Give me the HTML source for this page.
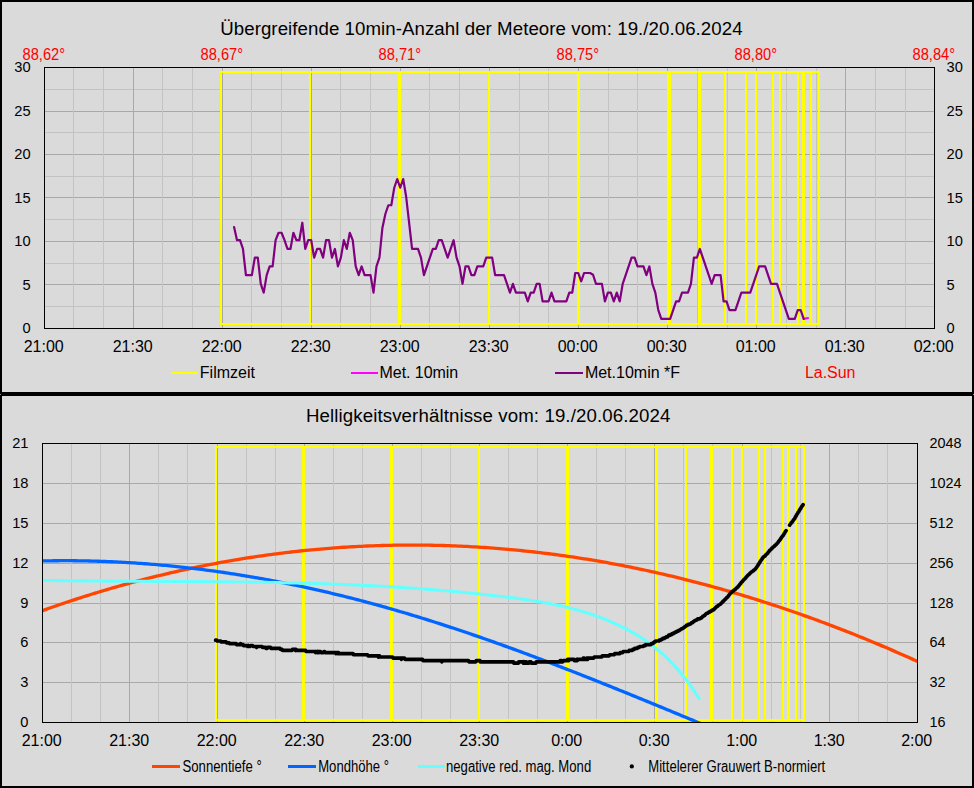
<!DOCTYPE html>
<html><head><meta charset="utf-8"><title>Meteore</title>
<style>html,body{margin:0;padding:0;background:#dadada;}svg{display:block;}text{font-family:"Liberation Sans",sans-serif;}</style></head>
<body>
<svg width="974" height="788" viewBox="0 0 974 788" font-family='"Liberation Sans", sans-serif'>
<rect x="0" y="0" width="974" height="788" fill="#000"/>
<g shape-rendering="crispEdges">
<rect x="2" y="2" width="970" height="390" fill="#dadada"/>
<rect x="2" y="396" width="970" height="390" fill="#dadada"/>
<rect x="0" y="394" width="1" height="1" fill="#8c8c8c"/>
<rect x="973" y="394" width="1" height="1" fill="#8c8c8c"/>
<rect x="44" y="89" width="890" height="1" fill="#c3c3c3"/>
<rect x="44" y="111" width="890" height="1" fill="#a9a9a9"/>
<rect x="44" y="132" width="890" height="1" fill="#c3c3c3"/>
<rect x="44" y="154" width="890" height="1" fill="#a9a9a9"/>
<rect x="44" y="176" width="890" height="1" fill="#c3c3c3"/>
<rect x="44" y="197" width="890" height="1" fill="#a9a9a9"/>
<rect x="44" y="219" width="890" height="1" fill="#c3c3c3"/>
<rect x="44" y="241" width="890" height="1" fill="#a9a9a9"/>
<rect x="44" y="263" width="890" height="1" fill="#c3c3c3"/>
<rect x="44" y="284" width="890" height="1" fill="#a9a9a9"/>
<rect x="44" y="306" width="890" height="1" fill="#c3c3c3"/>
<rect x="73" y="67" width="1" height="261" fill="#c3c3c3"/>
<rect x="103" y="67" width="1" height="261" fill="#c3c3c3"/>
<rect x="133" y="67" width="1" height="261" fill="#a9a9a9"/>
<rect x="162" y="67" width="1" height="261" fill="#c3c3c3"/>
<rect x="192" y="67" width="1" height="261" fill="#c3c3c3"/>
<rect x="222" y="67" width="1" height="261" fill="#a9a9a9"/>
<rect x="251" y="67" width="1" height="261" fill="#c3c3c3"/>
<rect x="281" y="67" width="1" height="261" fill="#c3c3c3"/>
<rect x="311" y="67" width="1" height="261" fill="#a9a9a9"/>
<rect x="340" y="67" width="1" height="261" fill="#c3c3c3"/>
<rect x="370" y="67" width="1" height="261" fill="#c3c3c3"/>
<rect x="400" y="67" width="1" height="261" fill="#a9a9a9"/>
<rect x="429" y="67" width="1" height="261" fill="#c3c3c3"/>
<rect x="459" y="67" width="1" height="261" fill="#c3c3c3"/>
<rect x="489" y="67" width="1" height="261" fill="#a9a9a9"/>
<rect x="519" y="67" width="1" height="261" fill="#c3c3c3"/>
<rect x="548" y="67" width="1" height="261" fill="#c3c3c3"/>
<rect x="578" y="67" width="1" height="261" fill="#a9a9a9"/>
<rect x="608" y="67" width="1" height="261" fill="#c3c3c3"/>
<rect x="637" y="67" width="1" height="261" fill="#c3c3c3"/>
<rect x="667" y="67" width="1" height="261" fill="#a9a9a9"/>
<rect x="697" y="67" width="1" height="261" fill="#c3c3c3"/>
<rect x="727" y="67" width="1" height="261" fill="#c3c3c3"/>
<rect x="756" y="67" width="1" height="261" fill="#a9a9a9"/>
<rect x="786" y="67" width="1" height="261" fill="#c3c3c3"/>
<rect x="816" y="67" width="1" height="261" fill="#c3c3c3"/>
<rect x="845" y="67" width="1" height="261" fill="#a9a9a9"/>
<rect x="875" y="67" width="1" height="261" fill="#c3c3c3"/>
<rect x="905" y="67" width="1" height="261" fill="#c3c3c3"/>
<rect x="42" y="483" width="875" height="1" fill="#a9a9a9"/>
<rect x="42" y="523" width="875" height="1" fill="#a9a9a9"/>
<rect x="42" y="563" width="875" height="1" fill="#a9a9a9"/>
<rect x="42" y="603" width="875" height="1" fill="#a9a9a9"/>
<rect x="42" y="642" width="875" height="1" fill="#a9a9a9"/>
<rect x="42" y="682" width="875" height="1" fill="#a9a9a9"/>
<rect x="71" y="443" width="1" height="279" fill="#c3c3c3"/>
<rect x="100" y="443" width="1" height="279" fill="#c3c3c3"/>
<rect x="129" y="443" width="1" height="279" fill="#a9a9a9"/>
<rect x="158" y="443" width="1" height="279" fill="#c3c3c3"/>
<rect x="187" y="443" width="1" height="279" fill="#c3c3c3"/>
<rect x="217" y="443" width="1" height="279" fill="#a9a9a9"/>
<rect x="246" y="443" width="1" height="279" fill="#c3c3c3"/>
<rect x="275" y="443" width="1" height="279" fill="#c3c3c3"/>
<rect x="304" y="443" width="1" height="279" fill="#a9a9a9"/>
<rect x="333" y="443" width="1" height="279" fill="#c3c3c3"/>
<rect x="362" y="443" width="1" height="279" fill="#c3c3c3"/>
<rect x="392" y="443" width="1" height="279" fill="#a9a9a9"/>
<rect x="421" y="443" width="1" height="279" fill="#c3c3c3"/>
<rect x="450" y="443" width="1" height="279" fill="#c3c3c3"/>
<rect x="479" y="443" width="1" height="279" fill="#a9a9a9"/>
<rect x="508" y="443" width="1" height="279" fill="#c3c3c3"/>
<rect x="537" y="443" width="1" height="279" fill="#c3c3c3"/>
<rect x="567" y="443" width="1" height="279" fill="#a9a9a9"/>
<rect x="596" y="443" width="1" height="279" fill="#c3c3c3"/>
<rect x="625" y="443" width="1" height="279" fill="#c3c3c3"/>
<rect x="654" y="443" width="1" height="279" fill="#a9a9a9"/>
<rect x="683" y="443" width="1" height="279" fill="#c3c3c3"/>
<rect x="712" y="443" width="1" height="279" fill="#c3c3c3"/>
<rect x="742" y="443" width="1" height="279" fill="#a9a9a9"/>
<rect x="771" y="443" width="1" height="279" fill="#c3c3c3"/>
<rect x="800" y="443" width="1" height="279" fill="#c3c3c3"/>
<rect x="829" y="443" width="1" height="279" fill="#a9a9a9"/>
<rect x="858" y="443" width="1" height="279" fill="#c3c3c3"/>
<rect x="887" y="443" width="1" height="279" fill="#c3c3c3"/>
</g>
<g shape-rendering="crispEdges" fill="#ffff00">
<rect x="220" y="71" width="600" height="2" fill="#ffff00"/>
<rect x="220" y="323" width="600" height="2" fill="#ffff00"/>
<rect x="220" y="71" width="2" height="254" fill="#ffff00"/>
<rect x="309" y="71" width="2" height="254" fill="#ffff00"/>
<rect x="398" y="71" width="3" height="254" fill="#ffff00"/>
<rect x="488" y="71" width="2" height="254" fill="#ffff00"/>
<rect x="577" y="71" width="3" height="254" fill="#ffff00"/>
<rect x="667" y="71" width="4" height="254" fill="#ffff00"/>
<rect x="698" y="71" width="3" height="254" fill="#ffff00"/>
<rect x="724" y="71" width="2" height="254" fill="#ffff00"/>
<rect x="745" y="71" width="2" height="254" fill="#ffff00"/>
<rect x="755" y="71" width="2" height="254" fill="#ffff00"/>
<rect x="772" y="71" width="2" height="254" fill="#ffff00"/>
<rect x="779" y="71" width="2" height="254" fill="#ffff00"/>
<rect x="797" y="71" width="2" height="254" fill="#ffff00"/>
<rect x="802" y="71" width="3" height="254" fill="#ffff00"/>
<rect x="810" y="71" width="2" height="254" fill="#ffff00"/>
<rect x="818" y="71" width="2" height="254" fill="#ffff00"/>
</g>
<g shape-rendering="crispEdges" fill="#ffff00">
<rect x="215" y="446" width="590" height="2" fill="#ffff00"/>
<rect x="215" y="719" width="590" height="2" fill="#ffff00"/>
<rect x="215" y="446" width="2" height="275" fill="#ffff00"/>
<rect x="302" y="446" width="3" height="275" fill="#ffff00"/>
<rect x="390" y="446" width="3" height="275" fill="#ffff00"/>
<rect x="478" y="446" width="2" height="275" fill="#ffff00"/>
<rect x="566" y="446" width="3" height="275" fill="#ffff00"/>
<rect x="655" y="446" width="3" height="275" fill="#ffff00"/>
<rect x="685" y="446" width="2" height="275" fill="#ffff00"/>
<rect x="710" y="446" width="3" height="275" fill="#ffff00"/>
<rect x="731" y="446" width="2" height="275" fill="#ffff00"/>
<rect x="741" y="446" width="2" height="275" fill="#ffff00"/>
<rect x="758" y="446" width="2" height="275" fill="#ffff00"/>
<rect x="764" y="446" width="2" height="275" fill="#ffff00"/>
<rect x="782" y="446" width="2" height="275" fill="#ffff00"/>
<rect x="787" y="446" width="3" height="275" fill="#ffff00"/>
<rect x="795" y="446" width="2" height="275" fill="#ffff00"/>
<rect x="803" y="446" width="2" height="275" fill="#ffff00"/>
</g>
<polyline points="803.67,318.86 808.00,318.00" fill="none" stroke="#ff00ff" stroke-width="2.2" stroke-linejoin="round" stroke-linecap="round"/>
<polyline points="234.07,227.09 237.03,240.20 240.00,240.20 242.97,248.94 245.93,275.16 248.90,275.16 251.87,275.16 254.83,257.68 257.80,257.68 260.77,283.90 263.73,292.64 266.70,275.16 269.67,266.42 272.63,266.42 275.60,240.20 278.57,232.77 281.53,232.77 284.50,240.20 287.47,248.94 290.43,248.94 293.40,232.77 296.37,240.20 299.33,240.20 302.30,222.72 305.27,248.94 308.23,240.20 311.20,240.20 314.17,257.68 317.13,248.94 320.10,248.94 323.07,257.68 326.03,240.20 329.00,240.20 331.97,257.68 334.93,248.94 337.90,266.42 340.87,257.68 343.83,240.20 346.80,248.94 349.77,232.77 352.73,240.20 355.70,266.42 358.67,275.16 361.63,266.42 364.60,275.16 367.57,275.16 370.53,275.16 373.50,292.64 376.47,266.42 379.43,257.68 382.40,227.96 385.37,213.98 388.33,205.24 391.30,205.24 394.27,187.76 397.23,179.02 400.20,187.76 403.17,179.02 406.13,196.50 409.10,222.72 412.07,248.94 415.03,248.94 418.00,248.94 420.97,257.68 423.93,275.16 426.90,266.42 429.87,257.68 432.83,248.94 435.80,248.94 438.77,240.20 441.73,240.20 444.70,248.94 447.67,257.68 450.63,248.94 453.60,240.20 456.57,257.68 459.53,266.42 462.50,283.90 465.47,266.42 468.43,266.42 471.40,275.16 474.37,275.16 477.33,266.42 480.30,266.42 483.27,266.42 486.23,257.68 489.20,257.68 492.17,257.68 495.13,275.16 498.10,275.16 501.07,275.16 504.03,275.16 507.00,283.90 509.97,292.64 512.93,283.90 515.90,292.64 518.87,292.64 521.83,292.64 524.80,292.64 527.77,301.38 530.73,292.64 533.70,292.64 536.67,283.90 539.63,283.90 542.60,301.38 545.57,301.38 548.53,301.38 551.50,292.64 554.47,301.38 557.43,301.38 560.40,301.38 563.37,301.38 566.33,301.38 569.30,292.64 572.27,292.64 575.23,272.98 578.20,272.98 581.17,281.28 584.13,272.98 587.10,272.98 590.07,272.98 593.03,274.72 596.00,283.90 598.97,283.90 601.93,283.90 604.90,301.38 607.87,292.64 610.83,292.64 613.80,301.38 616.77,292.64 619.73,301.38 622.70,283.90 625.67,275.16 628.63,266.42 631.60,257.68 634.57,257.68 637.53,266.42 640.50,266.42 643.47,266.42 646.43,275.16 649.40,266.42 652.37,283.90 655.33,292.64 658.30,310.12 661.27,318.86 664.23,318.86 667.20,318.86 670.17,318.86 673.13,310.12 676.10,301.38 679.07,301.38 682.03,292.64 685.00,292.64 687.97,292.64 690.93,283.90 693.90,257.68 696.87,257.68 699.83,248.94 702.80,257.68 705.77,266.42 708.73,275.16 711.70,283.90 714.67,275.16 717.63,275.16 720.60,275.16 723.57,301.38 726.53,301.38 729.50,310.12 732.47,310.12 735.43,310.12 738.40,301.38 741.37,292.64 744.33,292.64 747.30,292.64 750.27,292.64 753.23,283.90 756.20,275.16 759.17,266.42 762.13,266.42 765.10,266.42 768.07,275.16 771.03,283.90 774.00,283.90 776.97,283.90 779.93,292.64 782.90,301.38 785.87,310.12 788.83,318.86 791.80,318.86 794.77,318.86 797.73,310.12 800.70,310.12 803.67,318.86" fill="none" stroke="#800080" stroke-width="2.2" stroke-linejoin="round" stroke-linecap="round"/>
<clipPath id="cb"><rect x="42" y="443" width="876" height="280"/></clipPath>
<g clip-path="url(#cb)">
<polyline points="42.50,610.64 45.43,609.60 48.35,608.56 51.28,607.54 54.21,606.52 57.14,605.51 60.06,604.50 62.99,603.51 65.92,602.53 68.84,601.55 71.77,600.58 74.70,599.62 77.63,598.67 80.55,597.73 83.48,596.79 86.41,595.87 89.33,594.95 92.26,594.04 95.19,593.14 98.11,592.25 101.04,591.37 103.97,590.50 106.90,589.63 109.82,588.77 112.75,587.92 115.68,587.08 118.60,586.25 121.53,585.43 124.46,584.61 127.39,583.81 130.31,583.01 133.24,582.22 136.17,581.44 139.09,580.66 142.02,579.90 144.95,579.14 147.88,578.39 150.80,577.66 153.73,576.92 156.66,576.20 159.58,575.49 162.51,574.78 165.44,574.09 168.36,573.40 171.29,572.72 174.22,572.04 177.15,571.38 180.07,570.72 183.00,570.08 185.93,569.44 188.85,568.81 191.78,568.19 194.71,567.57 197.64,566.97 200.56,566.37 203.49,565.78 206.42,565.20 209.34,564.63 212.27,564.07 215.20,563.51 218.13,562.96 221.05,562.43 223.98,561.90 226.91,561.37 229.83,560.86 232.76,560.36 235.69,559.86 238.62,559.37 241.54,558.89 244.47,558.42 247.40,557.95 250.32,557.50 253.25,557.05 256.18,556.61 259.10,556.18 262.03,555.76 264.96,555.34 267.89,554.94 270.81,554.54 273.74,554.15 276.67,553.77 279.59,553.40 282.52,553.03 285.45,552.67 288.38,552.33 291.30,551.99 294.23,551.65 297.16,551.33 300.08,551.01 303.01,550.71 305.94,550.41 308.87,550.12 311.79,549.83 314.72,549.56 317.65,549.29 320.57,549.03 323.50,548.78 326.43,548.54 329.35,548.31 332.28,548.08 335.21,547.87 338.14,547.66 341.06,547.46 343.99,547.26 346.92,547.08 349.84,546.90 352.77,546.73 355.70,546.57 358.63,546.42 361.55,546.28 364.48,546.14 367.41,546.01 370.33,545.89 373.26,545.78 376.19,545.68 379.12,545.58 382.04,545.49 384.97,545.41 387.90,545.34 390.82,545.28 393.75,545.22 396.68,545.18 399.61,545.14 402.53,545.11 405.46,545.09 408.39,545.07 411.31,545.06 414.24,545.07 417.17,545.07 420.09,545.09 423.02,545.12 425.95,545.15 428.88,545.19 431.80,545.24 434.73,545.30 437.66,545.37 440.58,545.44 443.51,545.52 446.44,545.61 449.37,545.71 452.29,545.81 455.22,545.93 458.15,546.05 461.07,546.18 464.00,546.32 466.93,546.46 469.86,546.61 472.78,546.78 475.71,546.94 478.64,547.12 481.56,547.31 484.49,547.50 487.42,547.70 490.34,547.91 493.27,548.13 496.20,548.35 499.13,548.59 502.05,548.83 504.98,549.08 507.91,549.33 510.83,549.60 513.76,549.87 516.69,550.15 519.62,550.44 522.54,550.74 525.47,551.04 528.40,551.35 531.32,551.67 534.25,552.00 537.18,552.33 540.11,552.68 543.03,553.03 545.96,553.39 548.89,553.76 551.81,554.13 554.74,554.51 557.67,554.90 560.59,555.30 563.52,555.71 566.45,556.12 569.38,556.55 572.30,556.98 575.23,557.41 578.16,557.86 581.08,558.31 584.01,558.77 586.94,559.24 589.87,559.72 592.79,560.20 595.72,560.70 598.65,561.20 601.57,561.70 604.50,562.22 607.43,562.74 610.36,563.27 613.28,563.81 616.21,564.36 619.14,564.92 622.06,565.48 624.99,566.05 627.92,566.63 630.85,567.21 633.77,567.80 636.70,568.41 639.63,569.01 642.55,569.63 645.48,570.26 648.41,570.89 651.33,571.53 654.26,572.17 657.19,572.83 660.12,573.49 663.04,574.16 665.97,574.84 668.90,575.53 671.82,576.22 674.75,576.92 677.68,577.63 680.61,578.35 683.53,579.07 686.46,579.80 689.39,580.54 692.31,581.29 695.24,582.05 698.17,582.81 701.10,583.58 704.02,584.36 706.95,585.14 709.88,585.94 712.80,586.74 715.73,587.55 718.66,588.36 721.58,589.18 724.51,590.02 727.44,590.86 730.37,591.70 733.29,592.56 736.22,593.42 739.15,594.29 742.07,595.16 745.00,596.05 747.93,596.94 750.86,597.84 753.78,598.75 756.71,599.66 759.64,600.59 762.56,601.52 765.49,602.45 768.42,603.40 771.35,604.35 774.27,605.31 777.20,606.28 780.13,607.25 783.05,608.24 785.98,609.23 788.91,610.22 791.84,611.23 794.76,612.24 797.69,613.26 800.62,614.29 803.54,615.33 806.47,616.37 809.40,617.42 812.32,618.48 815.25,619.54 818.18,620.62 821.11,621.70 824.03,622.79 826.96,623.88 829.89,624.98 832.81,626.09 835.74,627.21 838.67,628.34 841.60,629.47 844.52,630.61 847.45,631.76 850.38,632.91 853.30,634.07 856.23,635.24 859.16,636.42 862.09,637.61 865.01,638.80 867.94,640.00 870.87,641.21 873.79,642.42 876.72,643.64 879.65,644.87 882.57,646.11 885.50,647.35 888.43,648.60 891.36,649.86 894.28,651.13 897.21,652.40 900.14,653.68 903.06,654.97 905.99,656.27 908.92,657.57 911.85,658.88 914.77,660.20 917.70,661.52" fill="none" stroke="#ff4500" stroke-width="3.3" stroke-linejoin="round" stroke-linecap="round"/>
<polyline points="42.50,560.96 44.74,560.91 46.98,560.87 49.22,560.83 51.46,560.80 53.70,560.77 55.93,560.75 58.17,560.73 60.41,560.72 62.65,560.71 64.89,560.71 67.13,560.71 69.37,560.71 71.61,560.72 73.85,560.74 76.09,560.76 78.33,560.79 80.57,560.82 82.80,560.85 85.04,560.89 87.28,560.93 89.52,560.98 91.76,561.04 94.00,561.10 96.24,561.16 98.48,561.23 100.72,561.30 102.96,561.38 105.20,561.46 107.43,561.55 109.67,561.65 111.91,561.74 114.15,561.84 116.39,561.95 118.63,562.06 120.87,562.18 123.11,562.30 125.35,562.42 127.59,562.55 129.83,562.69 132.07,562.83 134.30,562.97 136.54,563.12 138.78,563.28 141.02,563.43 143.26,563.60 145.50,563.76 147.74,563.94 149.98,564.11 152.22,564.29 154.46,564.48 156.70,564.67 158.93,564.87 161.17,565.07 163.41,565.27 165.65,565.48 167.89,565.69 170.13,565.91 172.37,566.13 174.61,566.36 176.85,566.59 179.09,566.83 181.33,567.07 183.57,567.32 185.80,567.57 188.04,567.82 190.28,568.08 192.52,568.34 194.76,568.61 197.00,568.88 199.24,569.16 201.48,569.44 203.72,569.73 205.96,570.02 208.20,570.31 210.43,570.61 212.67,570.92 214.91,571.23 217.15,571.54 219.39,571.86 221.63,572.18 223.87,572.50 226.11,572.83 228.35,573.17 230.59,573.51 232.83,573.85 235.07,574.20 237.30,574.55 239.54,574.91 241.78,575.27 244.02,575.64 246.26,576.01 248.50,576.38 250.74,576.76 252.98,577.14 255.22,577.53 257.46,577.92 259.70,578.32 261.93,578.72 264.17,579.12 266.41,579.53 268.65,579.94 270.89,580.36 273.13,580.78 275.37,581.21 277.61,581.64 279.85,582.08 282.09,582.51 284.33,582.96 286.57,583.40 288.80,583.86 291.04,584.31 293.28,584.77 295.52,585.24 297.76,585.71 300.00,586.18 302.24,586.66 304.48,587.14 306.72,587.62 308.96,588.11 311.20,588.60 313.43,589.10 315.67,589.60 317.91,590.11 320.15,590.62 322.39,591.14 324.63,591.65 326.87,592.18 329.11,592.70 331.35,593.24 333.59,593.77 335.83,594.31 338.07,594.85 340.30,595.40 342.54,595.95 344.78,596.51 347.02,597.07 349.26,597.63 351.50,598.20 353.74,598.77 355.98,599.35 358.22,599.93 360.46,600.51 362.70,601.10 364.93,601.69 367.17,602.29 369.41,602.89 371.65,603.49 373.89,604.10 376.13,604.71 378.37,605.33 380.61,605.95 382.85,606.57 385.09,607.20 387.33,607.83 389.57,608.47 391.80,609.11 394.04,609.75 396.28,610.40 398.52,611.05 400.76,611.71 403.00,612.37 405.24,613.03 407.48,613.70 409.72,614.37 411.96,615.05 414.20,615.72 416.43,616.41 418.67,617.09 420.91,617.78 423.15,618.47 425.39,619.17 427.63,619.87 429.87,620.57 432.11,621.28 434.35,621.99 436.59,622.71 438.83,623.42 441.07,624.14 443.30,624.87 445.54,625.60 447.78,626.33 450.02,627.06 452.26,627.80 454.50,628.54 456.74,629.28 458.98,630.03 461.22,630.78 463.46,631.53 465.70,632.29 467.93,633.05 470.17,633.81 472.41,634.58 474.65,635.34 476.89,636.11 479.13,636.89 481.37,637.67 483.61,638.45 485.85,639.23 488.09,640.02 490.33,640.80 492.57,641.60 494.80,642.39 497.04,643.19 499.28,643.99 501.52,644.79 503.76,645.59 506.00,646.40 508.24,647.21 510.48,648.02 512.72,648.84 514.96,649.65 517.20,650.47 519.43,651.30 521.67,652.12 523.91,652.95 526.15,653.78 528.39,654.61 530.63,655.45 532.87,656.28 535.11,657.12 537.35,657.96 539.59,658.81 541.83,659.65 544.07,660.50 546.30,661.35 548.54,662.20 550.78,663.06 553.02,663.91 555.26,664.77 557.50,665.63 559.74,666.49 561.98,667.36 564.22,668.22 566.46,669.09 568.70,669.96 570.93,670.83 573.17,671.70 575.41,672.58 577.65,673.46 579.89,674.33 582.13,675.21 584.37,676.10 586.61,676.98 588.85,677.87 591.09,678.75 593.33,679.64 595.57,680.53 597.80,681.42 600.04,682.32 602.28,683.21 604.52,684.11 606.76,685.00 609.00,685.90 611.24,686.80 613.48,687.70 615.72,688.61 617.96,689.51 620.20,690.41 622.43,691.32 624.67,692.23 626.91,693.14 629.15,694.05 631.39,694.96 633.63,695.87 635.87,696.78 638.11,697.70 640.35,698.61 642.59,699.53 644.83,700.45 647.07,701.36 649.30,702.28 651.54,703.20 653.78,704.12 656.02,705.04 658.26,705.97 660.50,706.89 662.74,707.81 664.98,708.74 667.22,709.66 669.46,710.59 671.70,711.52 673.93,712.44 676.17,713.37 678.41,714.30 680.65,715.23 682.89,716.16 685.13,717.09 687.37,718.02 689.61,718.95 691.85,719.88 694.09,720.81 696.33,721.74 698.57,722.67 700.80,723.60 703.04,724.54 705.28,725.47 707.52,726.40 709.76,727.34 712.00,728.27" fill="none" stroke="#0066ff" stroke-width="3.3" stroke-linejoin="round" stroke-linecap="round" stroke-linecap="butt"/>
<polyline points="42.50,580.38 44.70,580.41 46.89,580.45 49.09,580.48 51.28,580.52 53.48,580.55 55.67,580.58 57.87,580.61 60.07,580.64 62.26,580.67 64.46,580.70 66.65,580.72 68.85,580.75 71.04,580.78 73.24,580.80 75.43,580.82 77.63,580.85 79.83,580.87 82.02,580.89 84.22,580.91 86.41,580.93 88.61,580.95 90.80,580.97 93.00,580.99 95.20,581.01 97.39,581.03 99.59,581.05 101.78,581.06 103.98,581.08 106.17,581.09 108.37,581.11 110.57,581.12 112.76,581.14 114.96,581.15 117.15,581.17 119.35,581.18 121.54,581.19 123.74,581.21 125.93,581.22 128.13,581.23 130.33,581.24 132.52,581.26 134.72,581.27 136.91,581.28 139.11,581.29 141.30,581.30 143.50,581.31 145.70,581.33 147.89,581.34 150.09,581.35 152.28,581.36 154.48,581.37 156.67,581.38 158.87,581.39 161.07,581.40 163.26,581.41 165.46,581.43 167.65,581.44 169.85,581.45 172.04,581.46 174.24,581.47 176.43,581.48 178.63,581.50 180.83,581.51 183.02,581.52 185.22,581.54 187.41,581.55 189.61,581.56 191.80,581.58 194.00,581.59 196.20,581.61 198.39,581.62 200.59,581.64 202.78,581.65 204.98,581.67 207.17,581.69 209.37,581.70 211.57,581.72 213.76,581.74 215.96,581.76 218.15,581.78 220.35,581.80 222.54,581.82 224.74,581.84 226.93,581.86 229.13,581.88 231.33,581.91 233.52,581.93 235.72,581.96 237.91,581.98 240.11,582.01 242.30,582.04 244.50,582.06 246.70,582.09 248.89,582.12 251.09,582.15 253.28,582.19 255.48,582.22 257.67,582.25 259.87,582.29 262.07,582.32 264.26,582.36 266.46,582.39 268.65,582.43 270.85,582.47 273.04,582.51 275.24,582.55 277.43,582.60 279.63,582.64 281.83,582.69 284.02,582.73 286.22,582.78 288.41,582.83 290.61,582.88 292.80,582.93 295.00,582.98 297.20,583.03 299.39,583.09 301.59,583.15 303.78,583.20 305.98,583.26 308.17,583.32 310.37,583.38 312.57,583.45 314.76,583.51 316.96,583.58 319.15,583.65 321.35,583.72 323.54,583.79 325.74,583.86 327.93,583.93 330.13,584.01 332.33,584.09 334.52,584.16 336.72,584.25 338.91,584.33 341.11,584.41 343.30,584.50 345.50,584.58 347.70,584.67 349.89,584.76 352.09,584.86 354.28,584.95 356.48,585.05 358.67,585.15 360.87,585.25 363.07,585.35 365.26,585.45 367.46,585.56 369.65,585.66 371.85,585.77 374.04,585.89 376.24,586.00 378.43,586.12 380.63,586.23 382.83,586.35 385.02,586.48 387.22,586.60 389.41,586.73 391.61,586.85 393.80,586.98 396.00,587.12 398.20,587.25 400.39,587.39 402.59,587.53 404.78,587.67 406.98,587.82 409.17,587.96 411.37,588.11 413.57,588.26 415.76,588.42 417.96,588.57 420.15,588.73 422.35,588.89 424.54,589.05 426.74,589.22 428.93,589.39 431.13,589.56 433.33,589.73 435.52,589.91 437.72,590.09 439.91,590.27 442.11,590.45 444.30,590.64 446.50,590.83 448.70,591.02 450.89,591.21 453.09,591.41 455.28,591.61 457.48,591.81 459.67,592.02 461.87,592.23 464.07,592.44 466.26,592.65 468.46,592.87 470.65,593.09 472.85,593.31 475.04,593.53 477.24,593.76 479.43,593.99 481.63,594.23 483.83,594.47 486.02,594.71 488.22,594.95 490.41,595.20 492.61,595.45 494.80,595.70 497.00,595.95 499.20,596.21 501.39,596.47 503.59,596.74 505.78,597.01 507.98,597.28 510.17,597.56 512.37,597.83 514.57,598.12 516.76,598.40 518.96,598.70 521.15,598.99 523.35,599.30 525.54,599.61 527.74,599.92 529.93,600.25 532.13,600.58 534.33,600.92 536.52,601.27 538.72,601.63 540.91,602.00 543.11,602.38 545.30,602.77 547.50,603.17 549.70,603.59 551.89,604.01 554.09,604.45 556.28,604.90 558.48,605.37 560.67,605.85 562.87,606.34 565.07,606.85 567.26,607.38 569.46,607.92 571.65,608.48 573.85,609.05 576.04,609.64 578.24,610.25 580.43,610.88 582.63,611.53 584.83,612.20 587.02,612.89 589.22,613.60 591.41,614.33 593.61,615.08 595.80,615.85 598.00,616.65 600.20,617.47 602.39,618.31 604.59,619.17 606.78,620.06 608.98,620.98 611.17,621.92 613.37,622.89 615.57,623.88 617.76,624.90 619.96,625.94 622.15,627.02 624.35,628.12 626.54,629.25 628.74,630.42 630.93,631.61 633.13,632.84 635.33,634.11 637.52,635.41 639.72,636.76 641.91,638.16 644.11,639.60 646.30,641.09 648.50,642.64 650.70,644.23 652.89,645.89 655.09,647.61 657.28,649.39 659.48,651.24 661.67,653.15 663.87,655.13 666.07,657.19 668.26,659.32 670.46,661.53 672.65,663.82 674.85,666.19 677.04,668.64 679.24,671.19 681.43,673.82 683.63,676.55 685.83,679.37 688.02,682.29 690.22,685.31 692.41,688.44 694.61,691.67 696.80,695.00 699.00,698.45" fill="none" stroke="#66ffff" stroke-width="3.1" stroke-linejoin="round" stroke-linecap="round"/>
<polyline points="215.60,640.15 216.10,640.15 216.60,640.15 217.10,641.02 217.60,641.02 218.10,641.02 218.60,641.02 219.10,641.02 219.60,641.02 220.10,641.02 220.60,641.02 221.10,641.89 221.59,641.89 222.09,641.89 222.59,641.89 223.09,641.89 223.59,641.89 224.09,641.89 224.59,641.89 225.09,641.89 225.59,641.89 226.09,641.89 226.59,642.79 227.09,642.79 227.59,642.79 228.09,642.79 228.59,642.79 229.09,642.79 229.59,643.69 230.09,643.69 230.59,643.69 231.09,643.69 231.59,643.69 232.09,643.69 232.59,643.69 233.09,643.69 233.58,643.69 234.08,643.69 234.58,643.69 235.08,643.69 235.58,643.69 236.08,643.69 236.58,644.61 237.08,644.61 237.58,644.61 238.08,644.61 238.58,644.61 239.08,644.61 239.58,644.61 240.08,644.61 240.58,643.69 241.08,644.61 241.58,644.61 242.08,644.61 242.58,644.61 243.08,644.61 243.58,645.55 244.08,645.55 244.58,645.55 245.07,645.55 245.57,645.55 246.07,645.55 246.57,645.55 247.07,645.55 247.57,646.50 248.07,646.50 248.57,645.55 249.07,646.50 249.57,646.50 250.07,646.50 250.57,645.55 251.07,645.55 251.57,645.55 252.07,645.55 252.57,645.55 253.07,646.50 253.57,646.50 254.07,646.50 254.57,646.50 255.07,646.50 255.57,646.50 256.07,646.50 256.57,647.46 257.06,646.50 257.56,646.50 258.06,646.50 258.56,646.50 259.06,646.50 259.56,646.50 260.06,646.50 260.56,646.50 261.06,646.50 261.56,646.50 262.06,646.50 262.56,647.46 263.06,647.46 263.56,647.46 264.06,647.46 264.56,647.46 265.06,647.46 265.56,647.46 266.06,648.45 266.56,648.45 267.06,648.45 267.56,647.46 268.06,647.46 268.55,647.46 269.05,647.46 269.55,647.46 270.05,647.46 270.55,647.46 271.05,648.45 271.55,648.45 272.05,648.45 272.55,648.45 273.05,648.45 273.55,648.45 274.05,648.45 274.55,648.45 275.05,648.45 275.55,648.45 276.05,648.45 276.55,648.45 277.05,648.45 277.55,648.45 278.05,648.45 278.55,648.45 279.05,648.45 279.55,648.45 280.05,648.45 280.54,649.45 281.04,649.45 281.54,649.45 282.04,649.45 282.54,650.46 283.04,650.46 283.54,650.46 284.04,650.46 284.54,650.46 285.04,650.46 285.54,650.46 286.04,650.46 286.54,650.46 287.04,650.46 287.54,650.46 288.04,650.46 288.54,650.46 289.04,650.46 289.54,650.46 290.04,650.46 290.54,650.46 291.04,650.46 291.54,650.46 292.03,650.46 292.53,649.45 293.03,649.45 293.53,649.45 294.03,649.45 294.53,649.45 295.03,649.45 295.53,650.46 296.03,649.45 296.53,650.46 297.03,650.46 297.53,650.46 298.03,650.46 298.53,650.46 299.03,650.46 299.53,650.46 300.03,650.46 300.53,650.46 301.03,650.46 301.53,650.46 302.03,650.46 302.53,650.46 303.03,650.46 303.53,650.46 304.02,650.46 304.52,650.46 305.02,650.46 305.52,650.46 306.02,651.50 306.52,651.50 307.02,651.50 307.52,651.50 308.02,651.50 308.52,651.50 309.02,651.50 309.52,651.50 310.02,651.50 310.52,651.50 311.02,651.50 311.52,651.50 312.02,651.50 312.52,651.50 313.02,651.50 313.52,651.50 314.02,651.50 314.52,651.50 315.02,651.50 315.51,652.56 316.01,651.50 316.51,651.50 317.01,651.50 317.51,652.56 318.01,651.50 318.51,652.56 319.01,652.56 319.51,651.50 320.01,651.50 320.51,651.50 321.01,652.56 321.51,652.56 322.01,652.56 322.51,652.56 323.01,652.56 323.51,652.56 324.01,651.50 324.51,651.50 325.01,652.56 325.51,652.56 326.01,652.56 326.51,652.56 327.01,652.56 327.50,652.56 328.00,652.56 328.50,652.56 329.00,652.56 329.50,652.56 330.00,652.56 330.50,652.56 331.00,652.56 331.50,652.56 332.00,652.56 332.50,652.56 333.00,652.56 333.50,652.56 334.00,652.56 334.50,652.56 335.00,652.56 335.50,652.56 336.00,653.63 336.50,652.56 337.00,652.56 337.50,652.56 338.00,653.63 338.50,652.56 338.99,653.63 339.49,653.63 339.99,653.63 340.49,653.63 340.99,653.63 341.49,653.63 341.99,653.63 342.49,653.63 342.99,653.63 343.49,653.63 343.99,653.63 344.49,653.63 344.99,653.63 345.49,653.63 345.99,653.63 346.49,653.63 346.99,653.63 347.49,653.63 347.99,653.63 348.49,653.63 348.99,653.63 349.49,653.63 349.99,653.63 350.49,653.63 350.98,653.63 351.48,653.63 351.98,653.63 352.48,653.63 352.98,653.63 353.48,654.73 353.98,654.73 354.48,654.73 354.98,654.73 355.48,654.73 355.98,654.73 356.48,654.73 356.98,654.73 357.48,654.73 357.98,654.73 358.48,654.73 358.98,654.73 359.48,654.73 359.98,654.73 360.48,654.73 360.98,654.73 361.48,654.73 361.98,654.73 362.48,654.73 362.97,654.73 363.47,654.73 363.97,654.73 364.47,654.73 364.97,654.73 365.47,654.73 365.97,654.73 366.47,654.73 366.97,654.73 367.47,654.73 367.97,655.84 368.47,655.84 368.97,655.84 369.47,655.84 369.97,655.84 370.47,655.84 370.97,655.84 371.47,655.84 371.97,655.84 372.47,655.84 372.97,655.84 373.47,655.84 373.97,655.84 374.46,655.84 374.96,655.84 375.46,655.84 375.96,655.84 376.46,655.84 376.96,655.84 377.46,655.84 377.96,655.84 378.46,656.98 378.96,655.84 379.46,655.84 379.96,656.98 380.46,656.98 380.96,656.98 381.46,656.98 381.96,656.98 382.46,656.98 382.96,656.98 383.46,656.98 383.96,656.98 384.46,656.98 384.96,656.98 385.46,656.98 385.96,656.98 386.45,656.98 386.95,656.98 387.45,656.98 387.95,656.98 388.45,656.98 388.95,656.98 389.45,656.98 389.95,656.98 390.45,656.98 390.95,656.98 391.45,656.98 391.95,656.98 392.45,656.98 392.95,658.14 393.45,658.14 393.95,658.14 394.45,658.14 394.95,658.14 395.45,658.14 395.95,658.14 396.45,658.14 396.95,658.14 397.45,658.14 397.94,658.14 398.44,658.14 398.94,658.14 399.44,658.14 399.94,658.14 400.44,658.14 400.94,658.14 401.44,659.33 401.94,658.14 402.44,658.14 402.94,658.14 403.44,658.14 403.94,658.14 404.44,658.14 404.94,659.33 405.44,659.33 405.94,659.33 406.44,659.33 406.94,659.33 407.44,659.33 407.94,659.33 408.44,659.33 408.94,659.33 409.44,659.33 409.93,659.33 410.43,659.33 410.93,659.33 411.43,659.33 411.93,659.33 412.43,659.33 412.93,659.33 413.43,659.33 413.93,659.33 414.43,659.33 414.93,659.33 415.43,659.33 415.93,659.33 416.43,659.33 416.93,659.33 417.43,659.33 417.93,659.33 418.43,659.33 418.93,659.33 419.43,659.33 419.93,659.33 420.43,659.33 420.93,659.33 421.42,659.33 421.92,659.33 422.42,659.33 422.92,660.54 423.42,660.54 423.92,660.54 424.42,660.54 424.92,660.54 425.42,660.54 425.92,660.54 426.42,660.54 426.92,660.54 427.42,660.54 427.92,660.54 428.42,660.54 428.92,660.54 429.42,660.54 429.92,660.54 430.42,660.54 430.92,660.54 431.42,660.54 431.92,660.54 432.42,660.54 432.92,660.54 433.41,660.54 433.91,660.54 434.41,660.54 434.91,660.54 435.41,660.54 435.91,660.54 436.41,660.54 436.91,660.54 437.41,660.54 437.91,660.54 438.41,660.54 438.91,660.54 439.41,660.54 439.91,660.54 440.41,660.54 440.91,660.54 441.41,660.54 441.91,661.78 442.41,660.54 442.91,660.54 443.41,660.54 443.91,660.54 444.41,660.54 444.90,660.54 445.40,660.54 445.90,660.54 446.40,660.54 446.90,660.54 447.40,660.54 447.90,660.54 448.40,660.54 448.90,660.54 449.40,660.54 449.90,660.54 450.40,660.54 450.90,660.54 451.40,660.54 451.90,660.54 452.40,660.54 452.90,660.54 453.40,660.54 453.90,660.54 454.40,660.54 454.90,660.54 455.40,660.54 455.90,660.54 456.40,660.54 456.89,660.54 457.39,660.54 457.89,660.54 458.39,660.54 458.89,660.54 459.39,660.54 459.89,660.54 460.39,660.54 460.89,660.54 461.39,660.54 461.89,660.54 462.39,660.54 462.89,660.54 463.39,660.54 463.89,660.54 464.39,660.54 464.89,660.54 465.39,660.54 465.89,660.54 466.39,660.54 466.89,660.54 467.39,660.54 467.89,660.54 468.38,660.54 468.88,661.78 469.38,661.78 469.88,661.78 470.38,661.78 470.88,661.78 471.38,661.78 471.88,661.78 472.38,661.78 472.88,661.78 473.38,661.78 473.88,661.78 474.38,661.78 474.88,661.78 475.38,661.78 475.88,661.78 476.38,660.54 476.88,660.54 477.38,660.54 477.88,660.54 478.38,660.54 478.88,660.54 479.38,660.54 479.88,660.54 480.37,661.78 480.87,661.78 481.37,661.78 481.87,661.78 482.37,661.78 482.87,661.78 483.37,661.78 483.87,661.78 484.37,661.78 484.87,661.78 485.37,661.78 485.87,661.78 486.37,661.78 486.87,661.78 487.37,661.78 487.87,661.78 488.37,661.78 488.87,661.78 489.37,661.78 489.87,661.78 490.37,661.78 490.87,661.78 491.37,661.78 491.86,661.78 492.36,661.78 492.86,661.78 493.36,661.78 493.86,661.78 494.36,661.78 494.86,661.78 495.36,661.78 495.86,661.78 496.36,661.78 496.86,661.78 497.36,661.78 497.86,661.78 498.36,661.78 498.86,661.78 499.36,661.78 499.86,661.78 500.36,661.78 500.86,661.78 501.36,661.78 501.86,661.78 502.36,661.78 502.86,661.78 503.36,661.78 503.85,661.78 504.35,661.78 504.85,661.78 505.35,661.78 505.85,661.78 506.35,661.78 506.85,661.78 507.35,661.78 507.85,661.78 508.35,661.78 508.85,661.78 509.35,661.78 509.85,661.78 510.35,661.78 510.85,661.78 511.35,661.78 511.85,661.78 512.35,661.78 512.85,661.78 513.35,661.78 513.85,663.04 514.35,663.04 514.85,663.04 515.34,663.04 515.84,663.04 516.34,663.04 516.84,663.04 517.34,663.04 517.84,663.04 518.34,663.04 518.84,661.78 519.34,661.78 519.84,661.78 520.34,661.78 520.84,661.78 521.34,661.78 521.84,661.78 522.34,661.78 522.84,661.78 523.34,663.04 523.84,661.78 524.34,663.04 524.84,663.04 525.34,663.04 525.84,661.78 526.34,661.78 526.84,663.04 527.33,663.04 527.83,663.04 528.33,663.04 528.83,663.04 529.33,661.78 529.83,661.78 530.33,661.78 530.83,661.78 531.33,663.04 531.83,663.04 532.33,663.04 532.83,663.04 533.33,663.04 533.83,663.04 534.33,663.04 534.83,663.04 535.33,663.04 535.83,663.04 536.33,661.78 536.83,661.78 537.33,661.78 537.83,661.78 538.33,661.78 538.82,661.78 539.32,661.78 539.82,661.78 540.32,661.78 540.82,661.78 541.32,661.78 541.82,661.78 542.32,661.78 542.82,661.78 543.32,661.78 543.82,661.78 544.32,661.78 544.82,661.78 545.32,661.78 545.82,661.78 546.32,661.78 546.82,661.78 547.32,661.78 547.82,661.78 548.32,661.78 548.82,661.78 549.32,661.78 549.82,661.78 550.32,661.78 550.81,661.78 551.31,661.78 551.81,661.78 552.31,661.78 552.81,661.78 553.31,661.78 553.81,661.78 554.31,661.78 554.81,661.78 555.31,661.78 555.81,661.78 556.31,661.78 556.81,661.78 557.31,661.78 557.81,661.78 558.31,661.78 558.81,661.78 559.31,661.78 559.81,661.78 560.31,660.54 560.81,660.54 561.31,660.54 561.81,661.78 562.30,661.78 562.80,661.78 563.30,660.54 563.80,660.54 564.30,660.54 564.80,660.54 565.30,660.54 565.80,660.54 566.30,660.54 566.80,660.54 567.30,660.54 567.80,659.33 568.30,659.33 568.80,660.54 569.30,659.33 569.80,659.33 570.30,659.33 570.80,659.33 571.30,659.33 571.80,659.33 572.30,659.33 572.80,659.33 573.30,659.33 573.80,659.33 574.29,660.54 574.79,660.54 575.29,660.54 575.79,660.54 576.29,660.54 576.79,659.33 577.29,660.54 577.79,659.33 578.29,659.33 578.79,659.33 579.29,659.33 579.79,659.33 580.29,659.33 580.79,659.33 581.29,659.33 581.79,659.33 582.29,659.33 582.79,659.33 583.29,658.14 583.79,659.33 584.29,658.14 584.79,659.33 585.29,659.33 585.78,659.33 586.28,659.33 586.78,658.14 587.28,658.14 587.78,659.33 588.28,658.14 588.78,658.14 589.28,658.14 589.78,658.14 590.28,658.14 590.78,658.14 591.28,658.14 591.78,658.14 592.28,658.14 592.78,658.14 593.28,658.14 593.78,658.14 594.28,656.98 594.78,656.98 595.28,656.98 595.78,656.98 596.28,656.98 596.78,656.98 597.28,656.98 597.77,656.98 598.27,656.98 598.77,656.98 599.27,656.98 599.77,656.98 600.27,656.98 600.77,656.98 601.27,656.98 601.77,656.98 602.27,655.84 602.77,655.84 603.27,655.84 603.77,655.84 604.27,655.84 604.77,655.84 605.27,655.84 605.77,655.84 606.27,655.84 606.77,655.84 607.27,655.84 607.77,655.84 608.27,655.84 608.77,655.84 609.26,655.84 609.76,654.73 610.26,654.73 610.76,654.73 611.26,654.73 611.76,654.73 612.26,654.73 612.76,654.73 613.26,654.73 613.76,654.73 614.26,654.73 614.76,653.63 615.26,653.63 615.76,653.63 616.26,653.63 616.76,653.63 617.26,653.63 617.76,653.63 618.26,653.63 618.76,653.63 619.26,653.63 619.76,653.63 620.26,652.56 620.76,652.56 621.25,652.56 621.75,652.56 622.25,652.56 622.75,652.56 623.25,651.50 623.75,651.50 624.25,651.50 624.75,651.50 625.25,651.50 625.75,651.50 626.25,651.50 626.75,651.50 627.25,651.50 627.75,651.50 628.25,651.50 628.75,651.50 629.25,650.46 629.75,650.46 630.25,650.46 630.75,650.46 631.25,650.46 631.75,650.46 632.25,650.46 632.74,649.45 633.24,649.45 633.74,649.45 634.24,649.45 634.74,648.45 635.24,648.45 635.74,648.45 636.24,648.45 636.74,648.45 637.24,648.45 637.74,647.46 638.24,647.46 638.74,647.46 639.24,647.46 639.74,646.50 640.24,646.50 640.74,646.50 641.24,646.50 641.74,646.50 642.24,646.50 642.74,646.50 643.24,646.50 643.74,645.55 644.24,645.55 644.73,645.55 645.23,645.55 645.73,644.61 646.23,644.61 646.73,644.61 647.23,644.61 647.73,644.61 648.23,644.61 648.73,644.61 649.23,644.61 649.73,644.61 650.23,644.61 650.73,644.61 651.23,643.69 651.73,643.69 652.23,643.69 652.73,643.69 653.23,642.79 653.73,642.79 654.23,641.89 654.73,641.89 655.23,641.89 655.73,641.02 656.23,641.02 656.72,641.02 657.22,641.02 657.72,641.02 658.22,641.02 658.72,641.02 659.22,640.15 659.72,640.15 660.22,640.15 660.72,640.15 661.22,639.30 661.72,639.30 662.22,639.30 662.72,638.46 663.22,638.46 663.72,638.46 664.22,638.46 664.72,637.63 665.22,637.63 665.72,637.63 666.22,636.82 666.72,636.82 667.22,636.82 667.72,636.82 668.21,636.01 668.71,635.22 669.21,635.22 669.71,635.22 670.21,635.22 670.71,634.44 671.21,634.44 671.71,634.44 672.21,633.67 672.71,633.67 673.21,633.67 673.71,632.90 674.21,632.90 674.71,632.90 675.21,632.15 675.71,632.15 676.21,632.15 676.71,631.41 677.21,631.41 677.71,631.41 678.21,630.68 678.71,630.68 679.21,630.68 679.71,629.95 680.20,629.95 680.70,629.24 681.20,629.24 681.70,628.54 682.20,628.54 682.70,628.54 683.20,627.84 683.70,627.84 684.20,627.15 684.70,627.15 685.20,626.47 685.70,626.47 686.20,625.80 686.70,625.13 687.20,625.13 687.70,625.13 688.20,624.47 688.70,624.47 689.20,624.47 689.70,624.47 690.20,623.82 690.70,623.82 691.20,623.18 691.69,622.55 692.19,622.55 692.69,622.55 693.19,621.92 693.69,621.30 694.19,621.30 694.69,620.68 695.19,620.68 695.69,620.07 696.19,620.07 696.69,620.07 697.19,619.47 697.69,618.88 698.19,618.88 698.69,618.88 699.19,618.88 699.69,618.88 700.19,618.29 700.69,618.29 701.19,617.70 701.69,617.70 702.19,617.12 702.69,616.55 703.19,615.99 703.68,615.99 704.18,615.42 704.68,615.42 705.18,614.87 705.68,614.32 706.18,613.77 706.68,613.23 707.18,613.23 707.68,613.23 708.18,612.70 708.68,612.17 709.18,612.17 709.68,611.64 710.18,611.64 710.68,611.12 711.18,611.12 711.68,610.61 712.18,610.10 712.68,610.10 713.18,609.59 713.68,609.59 714.18,609.09 714.68,608.59 715.17,608.10 715.67,607.61 716.17,607.12 716.67,606.64 717.17,606.16 717.67,606.16 718.17,605.69 718.67,605.22 719.17,604.75 719.67,604.75 720.17,604.29 720.67,603.83 721.17,603.38 721.67,602.93 722.17,602.48 722.67,601.60 723.17,601.16 723.67,601.16 724.17,600.29 724.67,599.87 725.17,599.44 725.67,599.02 726.17,598.19 726.67,597.78 727.16,597.37 727.66,596.96 728.16,596.16 728.66,595.36 729.16,594.97 729.66,594.19 730.16,593.81 730.66,593.05 731.16,592.67 731.66,592.30 732.16,591.55 732.66,591.19 733.16,591.19 733.66,590.46 734.16,590.10 734.66,589.74 735.16,589.38 735.66,589.03 736.16,588.33 736.66,587.98 737.16,587.64 737.66,586.95 738.16,586.61 738.65,585.94 739.15,585.27 739.65,584.62 740.15,583.97 740.65,583.65 741.15,582.69 741.65,582.06 742.15,581.75 742.65,581.13 743.15,580.52 743.65,579.91 744.15,579.32 744.65,579.02 745.15,578.43 745.65,577.84 746.15,577.27 746.65,576.69 747.15,576.13 747.65,575.57 748.15,575.01 748.65,574.74 749.15,574.19 749.65,573.65 750.15,573.11 750.64,572.84 751.14,572.31 751.64,571.79 752.14,571.53 752.64,571.27 753.14,570.75 753.64,570.49 754.14,569.99 754.64,569.73 755.14,569.23 755.64,568.49 756.14,567.99 756.64,567.26 757.14,566.54 757.64,565.83 758.14,564.90 758.64,564.21 759.14,563.30 759.64,562.62 760.14,561.74 760.64,560.87 761.14,560.22 761.64,559.59 762.13,558.75 762.63,558.12 763.13,557.31 763.63,557.10 764.13,556.50 764.63,556.30 765.13,555.90 765.63,555.11 766.13,554.53 766.63,554.14 767.13,553.76 767.63,553.38 768.13,552.44 768.63,551.88 769.13,551.15 769.63,550.60 770.13,550.06 770.63,549.70 771.13,549.17 771.63,548.65 772.13,548.12 772.63,547.78 773.13,547.09 773.63,546.75 774.12,546.42 774.62,545.92 775.12,545.42 775.62,544.92 776.12,544.60 776.62,543.95 777.12,543.47 777.62,542.99 778.12,542.20 778.62,541.43 779.12,540.82 779.62,540.21 780.12,539.61 780.62,538.87 781.12,538.13 781.62,537.27 782.12,536.70 782.62,535.99 783.12,535.43 783.62,534.60 784.12,533.79 784.62,532.98 785.12,532.06 785.61,531.28 786.11,530.64" fill="none" stroke="#000" stroke-width="3.7" stroke-linejoin="round" stroke-linecap="round"/>
<polyline points="789.61,525.16 790.11,524.35 790.61,523.78 791.11,523.10 791.61,522.55 792.11,521.88 792.61,521.45 793.11,520.58 793.61,519.83 794.11,519.20 794.61,518.68 795.11,517.65 795.61,516.74 796.11,515.85 796.61,515.06 797.11,514.00 797.60,513.33 798.10,512.30 798.60,511.75 799.10,510.83 799.60,510.12 800.10,509.23 800.60,508.61 801.10,507.58 801.60,506.90 802.10,506.06 802.60,505.56 803.10,504.66" fill="none" stroke="#000" stroke-width="3.7" stroke-linejoin="round" stroke-linecap="round"/>
</g>
<g shape-rendering="crispEdges" fill="none" stroke="#000" stroke-width="1">
<rect x="44.5" y="67.5" width="890" height="261"/>
<rect x="42.5" y="443.5" width="875" height="279"/>
</g>
<text x="220.2" y="34.6" font-size="18.67" text-anchor="start" fill="#000" textLength="522.4" lengthAdjust="spacing">Übergreifende 10min-Anzahl der Meteore vom: 19./20.06.2024</text>
<text x="306.0" y="422.3" font-size="18.67" text-anchor="start" fill="#000" textLength="364.3" lengthAdjust="spacing">Helligkeitsverhältnisse vom: 19./20.06.2024</text>
<text x="22.519999999999996" y="59.5" font-size="15.6" text-anchor="start" fill="#ff0000" textLength="42.57" lengthAdjust="spacingAndGlyphs">88,62°</text>
<text x="200.52" y="59.5" font-size="15.6" text-anchor="start" fill="#ff0000" textLength="42.57" lengthAdjust="spacingAndGlyphs">88,67°</text>
<text x="378.52" y="59.5" font-size="15.6" text-anchor="start" fill="#ff0000" textLength="42.57" lengthAdjust="spacingAndGlyphs">88,71°</text>
<text x="556.52" y="59.5" font-size="15.6" text-anchor="start" fill="#ff0000" textLength="42.57" lengthAdjust="spacingAndGlyphs">88,75°</text>
<text x="734.52" y="59.5" font-size="15.6" text-anchor="start" fill="#ff0000" textLength="42.57" lengthAdjust="spacingAndGlyphs">88,80°</text>
<text x="912.52" y="59.5" font-size="15.6" text-anchor="start" fill="#ff0000" textLength="42.57" lengthAdjust="spacingAndGlyphs">88,84°</text>
<text x="22.44" y="333.1" font-size="15.3" text-anchor="start" fill="#000" textLength="8.16" lengthAdjust="spacingAndGlyphs">0</text>
<text x="946.6" y="333.1" font-size="15.3" text-anchor="start" fill="#000" textLength="8.16" lengthAdjust="spacingAndGlyphs">0</text>
<text x="22.44" y="289.6" font-size="15.3" text-anchor="start" fill="#000" textLength="8.16" lengthAdjust="spacingAndGlyphs">5</text>
<text x="946.6" y="289.6" font-size="15.3" text-anchor="start" fill="#000" textLength="8.16" lengthAdjust="spacingAndGlyphs">5</text>
<text x="14.29" y="246.1" font-size="15.3" text-anchor="start" fill="#000" textLength="16.31" lengthAdjust="spacingAndGlyphs">10</text>
<text x="946.6" y="246.1" font-size="15.3" text-anchor="start" fill="#000" textLength="16.31" lengthAdjust="spacingAndGlyphs">10</text>
<text x="14.29" y="202.6" font-size="15.3" text-anchor="start" fill="#000" textLength="16.31" lengthAdjust="spacingAndGlyphs">15</text>
<text x="946.6" y="202.6" font-size="15.3" text-anchor="start" fill="#000" textLength="16.31" lengthAdjust="spacingAndGlyphs">15</text>
<text x="14.29" y="159.1" font-size="15.3" text-anchor="start" fill="#000" textLength="16.31" lengthAdjust="spacingAndGlyphs">20</text>
<text x="946.6" y="159.1" font-size="15.3" text-anchor="start" fill="#000" textLength="16.31" lengthAdjust="spacingAndGlyphs">20</text>
<text x="14.29" y="115.6" font-size="15.3" text-anchor="start" fill="#000" textLength="16.31" lengthAdjust="spacingAndGlyphs">25</text>
<text x="946.6" y="115.6" font-size="15.3" text-anchor="start" fill="#000" textLength="16.31" lengthAdjust="spacingAndGlyphs">25</text>
<text x="14.29" y="72.1" font-size="15.3" text-anchor="start" fill="#000" textLength="16.31" lengthAdjust="spacingAndGlyphs">30</text>
<text x="946.6" y="72.1" font-size="15.3" text-anchor="start" fill="#000" textLength="16.31" lengthAdjust="spacingAndGlyphs">30</text>
<text x="43.7" y="352.1" font-size="16" text-anchor="middle" fill="#000">21:00</text>
<text x="132.7" y="352.1" font-size="16" text-anchor="middle" fill="#000">21:30</text>
<text x="221.7" y="352.1" font-size="16" text-anchor="middle" fill="#000">22:00</text>
<text x="310.7" y="352.1" font-size="16" text-anchor="middle" fill="#000">22:30</text>
<text x="399.7" y="352.1" font-size="16" text-anchor="middle" fill="#000">23:00</text>
<text x="488.7" y="352.1" font-size="16" text-anchor="middle" fill="#000">23:30</text>
<text x="577.7" y="352.1" font-size="16" text-anchor="middle" fill="#000">00:00</text>
<text x="666.7" y="352.1" font-size="16" text-anchor="middle" fill="#000">00:30</text>
<text x="755.7" y="352.1" font-size="16" text-anchor="middle" fill="#000">01:00</text>
<text x="844.7" y="352.1" font-size="16" text-anchor="middle" fill="#000">01:30</text>
<text x="933.7" y="352.1" font-size="16" text-anchor="middle" fill="#000">02:00</text>
<g shape-rendering="crispEdges">
<rect x="171" y="372" width="27" height="2" fill="#ffff00"/>
<rect x="351" y="372" width="27" height="2" fill="#ff00ff"/>
<rect x="555" y="372" width="28" height="2" fill="#800080"/>
</g>
<text x="199.8" y="378" font-size="16" text-anchor="start" fill="#000">Filmzeit</text>
<text x="379.6" y="378" font-size="16" text-anchor="start" fill="#000" textLength="78.5" lengthAdjust="spacing">Met. 10min</text>
<text x="584.9" y="378" font-size="16" text-anchor="start" fill="#000">Met.10min *F</text>
<text x="805.0" y="378" font-size="16" text-anchor="start" fill="#ff0000" textLength="50.4" lengthAdjust="spacing">La.Sun</text>
<text x="20.34" y="727.1" font-size="15.3" text-anchor="start" fill="#000" textLength="8.16" lengthAdjust="spacingAndGlyphs">0</text>
<text x="20.34" y="687.2428571428571" font-size="15.3" text-anchor="start" fill="#000" textLength="8.16" lengthAdjust="spacingAndGlyphs">3</text>
<text x="20.34" y="647.3857142857144" font-size="15.3" text-anchor="start" fill="#000" textLength="8.16" lengthAdjust="spacingAndGlyphs">6</text>
<text x="20.34" y="607.5285714285715" font-size="15.3" text-anchor="start" fill="#000" textLength="8.16" lengthAdjust="spacingAndGlyphs">9</text>
<text x="12.19" y="567.6714285714286" font-size="15.3" text-anchor="start" fill="#000" textLength="16.31" lengthAdjust="spacingAndGlyphs">12</text>
<text x="12.19" y="527.8142857142858" font-size="15.3" text-anchor="start" fill="#000" textLength="16.31" lengthAdjust="spacingAndGlyphs">15</text>
<text x="12.19" y="487.9571428571429" font-size="15.3" text-anchor="start" fill="#000" textLength="16.31" lengthAdjust="spacingAndGlyphs">18</text>
<text x="12.19" y="448.1" font-size="15.3" text-anchor="start" fill="#000" textLength="16.31" lengthAdjust="spacingAndGlyphs">21</text>
<text x="929.6" y="727.2" font-size="15.2" text-anchor="start" fill="#000" textLength="16.0" lengthAdjust="spacingAndGlyphs">16</text>
<text x="929.6" y="687.3428571428572" font-size="15.2" text-anchor="start" fill="#000" textLength="16.0" lengthAdjust="spacingAndGlyphs">32</text>
<text x="929.6" y="647.4857142857144" font-size="15.2" text-anchor="start" fill="#000" textLength="16.0" lengthAdjust="spacingAndGlyphs">64</text>
<text x="929.6" y="607.6285714285715" font-size="15.2" text-anchor="start" fill="#000" textLength="24.0" lengthAdjust="spacingAndGlyphs">128</text>
<text x="929.6" y="567.7714285714286" font-size="15.2" text-anchor="start" fill="#000" textLength="24.0" lengthAdjust="spacingAndGlyphs">256</text>
<text x="929.6" y="527.9142857142858" font-size="15.2" text-anchor="start" fill="#000" textLength="24.0" lengthAdjust="spacingAndGlyphs">512</text>
<text x="929.6" y="488.0571428571429" font-size="15.2" text-anchor="start" fill="#000" textLength="32.0" lengthAdjust="spacingAndGlyphs">1024</text>
<text x="929.6" y="448.2" font-size="15.2" text-anchor="start" fill="#000" textLength="32.0" lengthAdjust="spacingAndGlyphs">2048</text>
<text x="41.7" y="746.2" font-size="16" text-anchor="middle" fill="#000">21:00</text>
<text x="129.2" y="746.2" font-size="16" text-anchor="middle" fill="#000">21:30</text>
<text x="216.7" y="746.2" font-size="16" text-anchor="middle" fill="#000">22:00</text>
<text x="304.2" y="746.2" font-size="16" text-anchor="middle" fill="#000">22:30</text>
<text x="391.7" y="746.2" font-size="16" text-anchor="middle" fill="#000">23:00</text>
<text x="479.2" y="746.2" font-size="16" text-anchor="middle" fill="#000">23:30</text>
<text x="566.7" y="746.2" font-size="16" text-anchor="middle" fill="#000">0:00</text>
<text x="654.2" y="746.2" font-size="16" text-anchor="middle" fill="#000">0:30</text>
<text x="741.7" y="746.2" font-size="16" text-anchor="middle" fill="#000">1:00</text>
<text x="829.2" y="746.2" font-size="16" text-anchor="middle" fill="#000">1:30</text>
<text x="916.7" y="746.2" font-size="16" text-anchor="middle" fill="#000">2:00</text>
<g shape-rendering="crispEdges">
<rect x="152" y="765" width="28" height="3" fill="#ff4500"/>
<rect x="288" y="765" width="28" height="3" fill="#0066ff"/>
<rect x="418" y="765" width="27" height="3" fill="#66ffff"/>
</g>
<circle cx="631.8" cy="766.4" r="2.1" fill="#000"/>
<text x="182.5" y="772.2" font-size="16" text-anchor="start" fill="#000" textLength="79.2" lengthAdjust="spacingAndGlyphs">Sonnentiefe °</text>
<text x="318.2" y="772.2" font-size="16" text-anchor="start" fill="#000" textLength="70.8" lengthAdjust="spacingAndGlyphs">Mondhöhe °</text>
<text x="446.0" y="772.2" font-size="16" text-anchor="start" fill="#000" textLength="145.2" lengthAdjust="spacingAndGlyphs">negative red. mag. Mond</text>
<text x="648.3" y="772.2" font-size="16" text-anchor="start" fill="#000" textLength="176.9" lengthAdjust="spacingAndGlyphs">Mittelerer Grauwert B-normiert</text>
</svg>
</body></html>
